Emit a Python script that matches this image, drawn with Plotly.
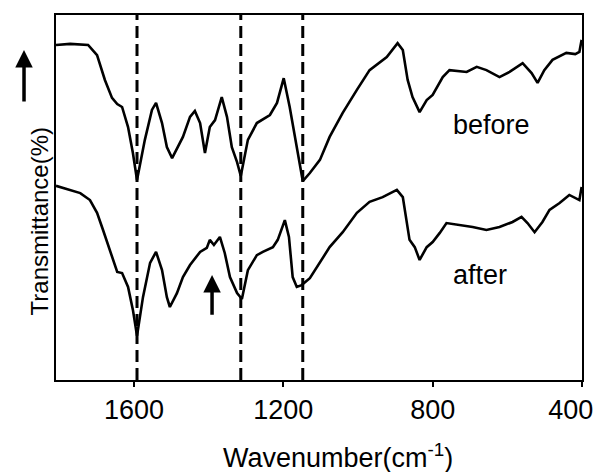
import plotly.graph_objects as go

# ---- data ----
wn_before = [1809, 1771, 1723, 1699, 1678, 1659, 1645, 1632, 1616, 1603, 1592, 1571, 1552, 1541,
             1525, 1512, 1498, 1482, 1469, 1450, 1437, 1423, 1410, 1397, 1383, 1365, 1351, 1338,
             1324, 1314, 1295, 1271, 1255, 1236, 1217, 1199, 1183, 1164, 1148, 1129, 1102, 1076,
             1041, 1003, 969, 923, 894, 880, 867, 854, 835, 816, 800, 773, 755, 709, 682, 656,
             621, 594, 559, 535, 519, 501, 479, 442, 418, 407, 401]
t_before = [91.8, 92.1, 91.8, 89.0, 82.2, 77.3, 75.6, 74.8, 69.3, 62.2, 54.8, 65.8, 74.0, 75.9,
            70.4, 63.8, 60.8, 63.8, 66.6, 72.1, 73.7, 70.4, 62.2, 69.3, 71.2, 77.5, 72.1, 63.8,
            59.7, 55.9, 65.8, 70.4, 71.5, 72.6, 75.9, 82.7, 74.8, 63.8, 54.5, 56.7, 60.3, 66.6,
            73.2, 79.5, 84.9, 88.5, 92.3, 90.4, 82.2, 77.5, 73.4, 76.7, 78.1, 83.0, 84.9, 84.4,
            85.8, 84.9, 83.0, 84.4, 86.8, 84.1, 81.4, 84.9, 87.7, 89.6, 89.3, 89.9, 93.2]

wn_after = [1809, 1744, 1718, 1699, 1683, 1664, 1645, 1632, 1616, 1603, 1592, 1576, 1557, 1541,
            1525, 1512, 1504, 1485, 1469, 1450, 1423, 1405, 1397, 1386, 1370, 1357, 1343, 1324,
            1311, 1295, 1271, 1255, 1228, 1215, 1196, 1185, 1175, 1164, 1151, 1129, 1102, 1076,
            1041, 1003, 969, 934, 896, 880, 862, 848, 835, 816, 800, 781, 763, 728, 693, 656,
            621, 586, 562, 546, 527, 506, 487, 460, 434, 407, 401]
t_after = [53.2, 51.2, 49.3, 45.8, 41.1, 35.6, 29.6, 29.3, 25.5, 19.2, 12.1, 22.7, 32.1, 35.1,
           30.1, 22.7, 20.0, 23.8, 28.2, 31.5, 35.1, 36.2, 38.4, 37.0, 39.2, 34.8, 28.2, 23.8,
           22.2, 30.1, 34.2, 35.1, 36.4, 38.4, 43.8, 39.2, 28.2, 25.5, 26.0, 27.9, 32.1, 36.4,
           40.5, 45.8, 48.8, 50.1, 52.1, 50.1, 38.4, 36.4, 32.9, 36.4, 37.8, 40.3, 43.0, 42.5,
           41.9, 41.1, 41.9, 43.3, 44.7, 43.0, 40.5, 43.3, 46.6, 48.5, 50.7, 49.3, 52.9]

dashed_wn = [1592, 1314, 1148]
tick_vals = [1600, 1200, 800, 400]
tick_text = ["1600", "1200", "800", "400\u00a0\u00a0\u00a0"]

FONT = "Liberation Sans, Arial, sans-serif"

fig = go.Figure()
fig.add_trace(go.Scatter(x=wn_before, y=t_before, mode="lines",
                         line=dict(color="black", width=2.6), showlegend=False))
fig.add_trace(go.Scatter(x=wn_after, y=t_after, mode="lines",
                         line=dict(color="black", width=2.6), showlegend=False))

for w in dashed_wn:
    fig.add_shape(type="line", xref="x", yref="paper", x0=w, x1=w, y0=0, y1=1,
                  line=dict(color="black", width=3, dash="12px,6px"))

fig.add_annotation(x=642, y=69.9, text="before", showarrow=False,
                   font=dict(family=FONT, size=27, color="black"))
fig.add_annotation(x=674, y=28.8, text="after", showarrow=False,
                   font=dict(family=FONT, size=27, color="black"))
# arrow inside plot
fig.add_annotation(x=1391, y=28.8, ax=1391, ay=17.5, axref="x", ayref="y",
                   text="", showarrow=True, arrowhead=2, arrowwidth=3.5, arrowsize=1,
                   arrowcolor="black")
# y title and its arrow
fig.add_annotation(xref="paper", yref="paper", x=-0.0608, y=0.433, text="Transmittance(%)",
                   textangle=-90, showarrow=False,
                   font=dict(family=FONT, size=24, color="black"))
fig.add_annotation(xref="paper", yref="paper", x=-0.0608, y=0.904, ax=0, ay=53,
                   text="", showarrow=True, arrowhead=2, arrowwidth=3.5, arrowsize=1,
                   arrowcolor="black")
# x title
fig.add_annotation(xref="paper", yref="paper", x=0.537, y=-0.208, yanchor="middle",
                   text="Wavenumber(cm<sup>-1</sup>)", showarrow=False,
                   font=dict(family=FONT, size=27, color="black"))

fig.update_xaxes(range=[1809, 400], tickvals=tick_vals, ticktext=tick_text,
                 ticks="outside", ticklen=5, tickwidth=2, tickcolor="black",
                 showline=True, linecolor="black", linewidth=2, mirror=True,
                 showgrid=False, zeroline=False, automargin=False,
                 ticklabeloverflow="allow",
                 tickfont=dict(family=FONT, size=27, color="black"))
fig.update_yaxes(range=[0, 100], showticklabels=False, ticks="",
                 showline=True, linecolor="black", linewidth=2, mirror=True,
                 showgrid=False, zeroline=False, automargin=False)

fig.update_layout(width=593, height=472, margin=dict(l=56, r=11, t=15, b=92),
                  plot_bgcolor="white", paper_bgcolor="white")

fig.write_html("out.html", config={"displayModeBar": False},
               post_script="document.body.style.margin='0';document.body.style.overflow='hidden';")
